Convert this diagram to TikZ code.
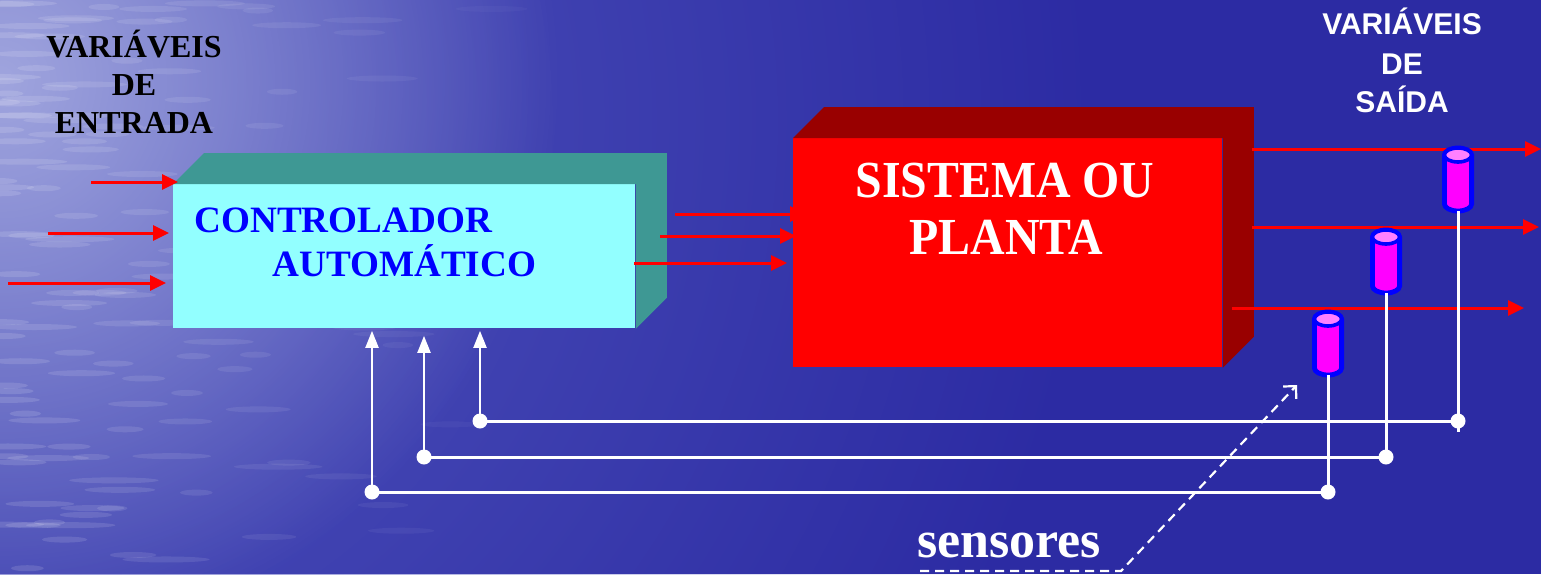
\documentclass[tikz,border=0pt]{standalone}
\usepackage{fontspec}
\setmainfont{Liberation Serif}
\newfontfamily\sansf{Liberation Sans}
\newfontfamily\condserif[FakeStretch=0.92]{Liberation Serif}
\usetikzlibrary{arrows.meta,fadings}
\tikzfading[name=softglow, inner color=transparent!0, outer color=transparent!100]
\definecolor{bgblue}{RGB}{44,43,163}
\definecolor{bglight}{RGB}{160,165,222}
\definecolor{bgmid}{RGB}{82,87,190}
\definecolor{ctrlfront}{RGB}{146,255,255}
\definecolor{ctrlside}{RGB}{62,152,148}
\definecolor{plantfront}{RGB}{255,0,0}
\definecolor{plantside}{RGB}{153,0,0}
\definecolor{sensfill}{RGB}{255,0,255}
\definecolor{senstop}{RGB}{255,128,255}
\definecolor{sensedge}{RGB}{0,0,255}
\definecolor{ctrltext}{RGB}{0,0,255}
\newcommand\sensorcyl[3]{%
  \begin{scope}[shift={(#2,#3)}, x=1pt, y=1pt]
    \filldraw[fill=sensfill, draw=sensedge, line width=2.4pt]
      (-6.8,-3.5) -- (-6.8,-28) arc[start angle=180, end angle=360, x radius=6.8, y radius=3.5]
      -- (6.8,-3.5) arc[start angle=0, end angle=180, x radius=6.8, y radius=3.5] -- cycle;
    \filldraw[fill=senstop, draw=sensedge, line width=1.8pt] (0,-3.5) ellipse[x radius=6.8, y radius=3.5];
    \coordinate (#1) at (0,-31.5);
  \end{scope}}
\begin{document}
\begin{tikzpicture}[x=0.5pt, y=-0.5pt,
  redarrow/.style={draw=red, line width=1.5pt, -{Triangle[length=8pt, width=7.5pt]}},
  fbline/.style={draw=white, line width=1.5pt},
  fbarrow/.style={draw=white, line width=1pt, -{Triangle[length=8.5pt, width=6.5pt]}},
  fbdot/.style={circle, fill=white, inner sep=0pt, minimum size=7.5pt},
  dashline/.style={draw=white, line width=1.1pt, dash pattern=on 4.5pt off 3pt, -{Straight Barb[length=4.5pt, width=9pt, line width=1.1pt]}},
  inlabel/.style={font=\bfseries\fontsize{16}{19}\selectfont, text=black, anchor=base, inner sep=0pt},
  outlabel/.style={font=\sansf\bfseries\fontsize{15}{18}\selectfont, text=white, anchor=base, inner sep=0pt},
  ctrllabel/.style={font=\bfseries\fontsize{18.6}{22}\selectfont, text=ctrltext, anchor=base west, inner sep=0pt},
  plantlabel/.style={font=\condserif\bfseries\fontsize{26}{30}\selectfont, text=white, anchor=base, inner sep=0pt},
  boxfront/.style={anchor=north west, inner sep=0pt, draw=none}
]
% background
\fill[bgblue] (0,0) rectangle (1541,574);
\begin{scope}
  \clip (0,0) rectangle (1541,574);
  \fill[bgmid, path fading=softglow] (0,120) circle (1100);
  \fill[bglight, path fading=softglow] (0,80) circle (560);
  \pgfmathsetseed{11}
  \foreach \k in {1,...,140}{
    \pgfmathsetmacro\sx{600*rnd*rnd}
    \pgfmathsetmacro\sy{574*rnd}
    \pgfmathsetmacro\sl{15+30*rnd}
    \pgfmathsetmacro\so{0.13*(1-\sx/650)}
    \fill[white, opacity=\so] (\sx,\sy) ellipse[x radius=\sl, y radius=3];
  }
\end{scope}
\useasboundingbox (0,0) rectangle (1541,574);

% labels
\node[inlabel] (in1) at (134,57) {VARIÁVEIS};
\node[inlabel] (in2) at (134,95) {DE};
\node[inlabel] (in3) at (134,133) {ENTRADA};
\node[outlabel] (out1) at (1402,34) {VARIÁVEIS};
\node[outlabel] (out2) at (1402,74) {DE};
\node[outlabel] (out3) at (1402,112) {SAÍDA};

% hidden arrow (behind plant)
\coordinate (a1) at (675,214);
\coordinate (a1e) at (806,214);
\draw[redarrow] (a1) -- (a1e);

% controller box
\node[boxfront, fill=ctrlfront, minimum width=231pt, minimum height=72pt] (ctrl) at (173,184) {};
\fill[ctrlside] (ctrl.north west) -- ++(31,-31) -- ([shift={(31,-31)}]ctrl.north east)
  -- ([shift={(31,-31)}]ctrl.south east) -- (ctrl.south east) -- (ctrl.north east) -- cycle;
\node[ctrllabel] (ctrl1) at (194,232) {CONTROLADOR};
\node[ctrllabel] (ctrl2) at (272,276) {AUTOMÁTICO};

% plant box
\node[boxfront, fill=plantfront, minimum width=214.5pt, minimum height=114.5pt] (plant) at (793,138) {};
\fill[plantside] (plant.north west) -- ++(31,-31) -- ([shift={(31,-31)}]plant.north east)
  -- ([shift={(31,-31)}]plant.south east) -- (plant.south east) -- (plant.north east) -- cycle;
\node[plantlabel] (pl1) at (1005,197) {SISTEMA OU};
\node[plantlabel] (pl2) at (1006,254) {PLANTA};

% input arrows
\coordinate (i1) at (91,182); \coordinate (i1e) at (178,182);
\coordinate (i2) at (48,233); \coordinate (i2e) at (169,233);
\coordinate (i3) at (8,283);  \coordinate (i3e) at (166,283);
\draw[redarrow] (i1) -- (i1e);
\draw[redarrow] (i2) -- (i2e);
\draw[redarrow] (i3) -- (i3e);

% controller -> plant arrows
\coordinate (b1) at (660,236); \coordinate (b1e) at (796,236);
\coordinate (c1) at (634,263); \coordinate (c1e) at (787,263);
\draw[redarrow] (b1) -- (b1e);
\draw[redarrow] (c1) -- (c1e);

% output arrows
\coordinate (o1) at (1252,149); \coordinate (o1e) at (1541,149);
\coordinate (o2) at (1252,227); \coordinate (o2e) at (1539,227);
\coordinate (o3) at (1232,308); \coordinate (o3e) at (1524,308);
\draw[redarrow] (o1) -- (o1e);
\draw[redarrow] (o2) -- (o2e);
\draw[redarrow] (o3) -- (o3e);

% sensors
\sensorcyl{s1}{1458}{148}
\sensorcyl{s2}{1386}{230}
\sensorcyl{s3}{1328}{312}

% feedback lines
\coordinate (j1) at (1456,421); \coordinate (k1) at (480,421); \coordinate (e1) at (1456,432);
\coordinate (j2) at (1384,457); \coordinate (k2) at (424,457);
\coordinate (j3) at (1326,492); \coordinate (k3) at (372,492);
\draw[fbline] (s1) -- (s1 |- e1);
\draw[fbline] (s2) -- (s2 |- j2);
\draw[fbline] (s3) -- (s3 |- j3);
\draw[fbline] (s1 |- j1) -- (k1);
\draw[fbline] (s2 |- j2) -- (k2);
\draw[fbline] (s3 |- j3) -- (k3);
\draw[fbarrow, shorten >=1pt] (k1) -- (k1 |- ctrl.south);
\draw[fbarrow, shorten >=3.5pt] (k2) -- (k2 |- ctrl.south);
\draw[fbarrow, shorten >=1pt] (k3) -- (k3 |- ctrl.south);
\node[fbdot] (d1) at (k1) {};
\node[fbdot] (d2) at (k2) {};
\node[fbdot] (d3) at (k3) {};
\node[fbdot] (d4) at (s1 |- j1) {};
\node[fbdot] (d5) at (s2 |- j2) {};
\node[fbdot] (d6) at (s3 |- j3) {};

% sensores label and dashed pointer
\node[font=\bfseries\fontsize{26}{30}\selectfont, text=white, anchor=base, inner sep=0pt] (senslabel) at (1009,557) {sensores};
\coordinate (u0) at (920,571); \coordinate (u1) at (1121,571); \coordinate (u2) at (1297,385);
\draw[dashline] (u0) -- (u1) -- (u2);
\end{tikzpicture}
\end{document}
